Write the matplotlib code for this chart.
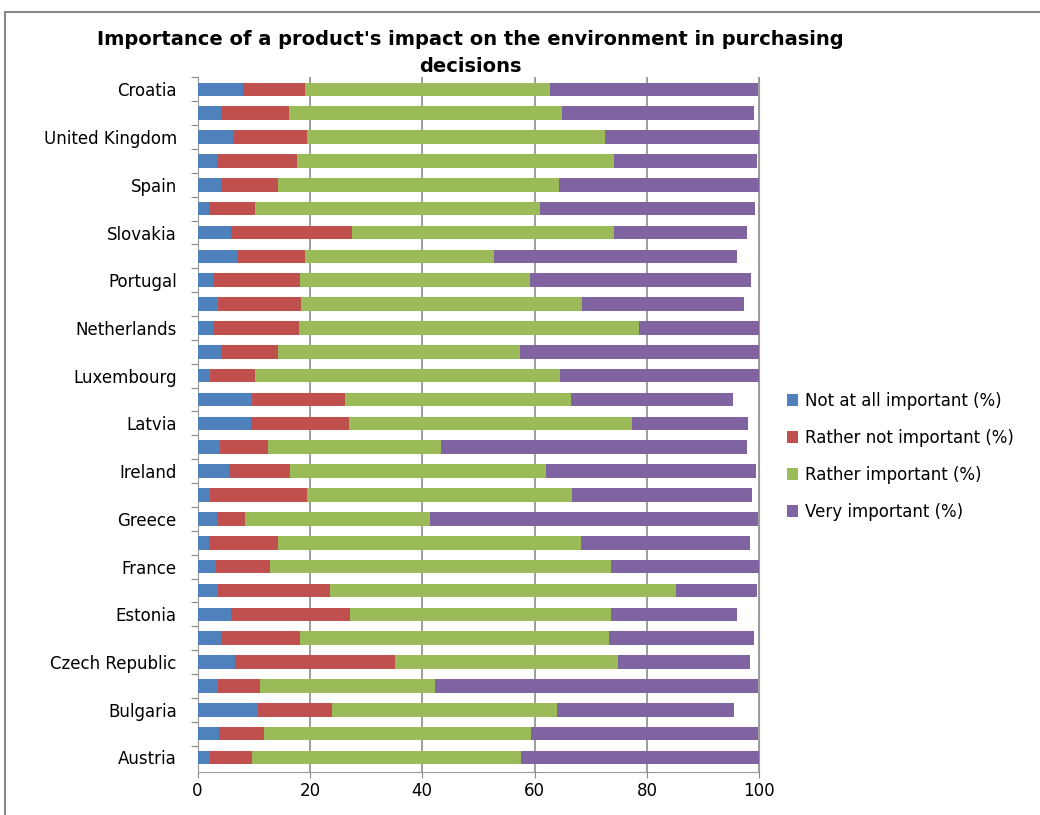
import numpy as np
import matplotlib.pyplot as plt
from matplotlib.patches import Rectangle

# bottom to top, as drawn
countries = ['Austria', 'Belgium', 'Bulgaria', 'Cyprus', 'Czech Republic', 'Denmark',
             'Estonia', 'Finland', 'France', 'Germany', 'Greece', 'Hungary', 'Ireland',
             'Italy', 'Latvia', 'Lithuania', 'Luxembourg', 'Malta', 'Netherlands',
             'Poland', 'Portugal', 'Romania', 'Slovakia', 'Slovenia', 'Spain', 'Sweden',
             'United Kingdom', 'EU27', 'Croatia']

not_at_all = [2.2, 3.8, 10.8, 3.7, 6.7, 4.2, 6.0, 3.7, 3.2, 2.0, 3.4, 2.2, 5.6,
              4.0, 9.5, 9.6, 2.2, 4.4, 2.7, 3.6, 2.7, 7.2, 6.0, 2.0, 4.2, 3.4,
              6.3, 4.2, 8.0]
rather_not = [7.4, 8.0, 13.2, 7.4, 28.5, 14.0, 21.1, 19.9, 9.7, 12.4, 5.1, 17.2, 10.8,
              8.6, 17.4, 16.7, 8.0, 9.9, 15.3, 14.8, 15.5, 12.0, 21.5, 8.2, 10.2, 14.3,
              13.1, 12.0, 11.2]
rather = [47.9, 47.6, 40.0, 31.2, 39.6, 55.0, 46.6, 61.5, 60.8, 53.9, 32.8, 47.2, 45.7,
          30.8, 50.4, 40.1, 54.4, 43.1, 60.6, 50.0, 41.0, 33.6, 46.6, 50.7, 49.9, 56.5,
          53.1, 48.6, 43.6]
very = [42.5, 40.4, 31.5, 57.5, 23.6, 25.9, 22.4, 14.5, 26.5, 30.1, 58.5, 32.2, 37.3,
        54.4, 20.7, 28.9, 35.4, 42.6, 21.4, 28.9, 39.4, 43.3, 23.7, 38.3, 35.8, 25.4,
        27.4, 34.3, 37.0]

series = [('Not at all important (%)', not_at_all, '#4F81BD'),
          ('Rather not important (%)', rather_not, '#C0504D'),
          ('Rather important (%)', rather, '#9BBB59'),
          ('Very important (%)', very, '#8064A2')]

fig = plt.figure(figsize=(10.4, 8.15), dpi=100)
ax = fig.add_axes([0.19, 0.053, 0.54, 0.852])

y = np.arange(len(countries))
left = np.zeros(len(countries))
for name, vals, col in series:
    ax.barh(y, vals, left=left, height=0.57, color=col, label=name,
            edgecolor='none', zorder=3)
    left += np.array(vals)

ax.set_xlim(0, 100)
ax.set_ylim(-0.6, len(countries) - 0.5)
ax.set_xticks([0, 20, 40, 60, 80, 100])
ax.set_yticks(y + 0.5, minor=False)
ax.set_yticklabels([])
ax.set_yticks(y, minor=True)
ax.set_yticklabels([c if i % 2 == 0 else '' for i, c in enumerate(countries)],
                   minor=True, fontsize=12)
ax.tick_params(axis='y', which='minor', length=0, pad=15)
ax.tick_params(axis='y', which='major', length=5, color='#888888')
ax.tick_params(axis='x', labelsize=12, length=4, color='#888888')
ax.grid(axis='x', color='#8c8c8c', linewidth=1.2, zorder=0)
ax.spines['top'].set_visible(False)
for s in ['left', 'bottom', 'right']:
    ax.spines[s].set_color('#999999')

fig.text(0.452, 0.952, "Importance of a product's impact on the environment in purchasing",
         ha='center', va='center', fontsize=14, fontweight='bold')
fig.text(0.452, 0.919, 'decisions', ha='center', va='center', fontsize=14, fontweight='bold')

fig.legend(loc='center left', bbox_to_anchor=(0.742, 0.44), frameon=False,
           fontsize=12, handlelength=0.7, handleheight=0.7, handletextpad=0.4,
           labelspacing=1.15)

fig.patches.append(Rectangle((0.005, -0.01), 1.0, 0.995, transform=fig.transFigure,
                             fill=False, edgecolor='#888888', linewidth=1.5))

fig.savefig('out.png', dpi=100)
